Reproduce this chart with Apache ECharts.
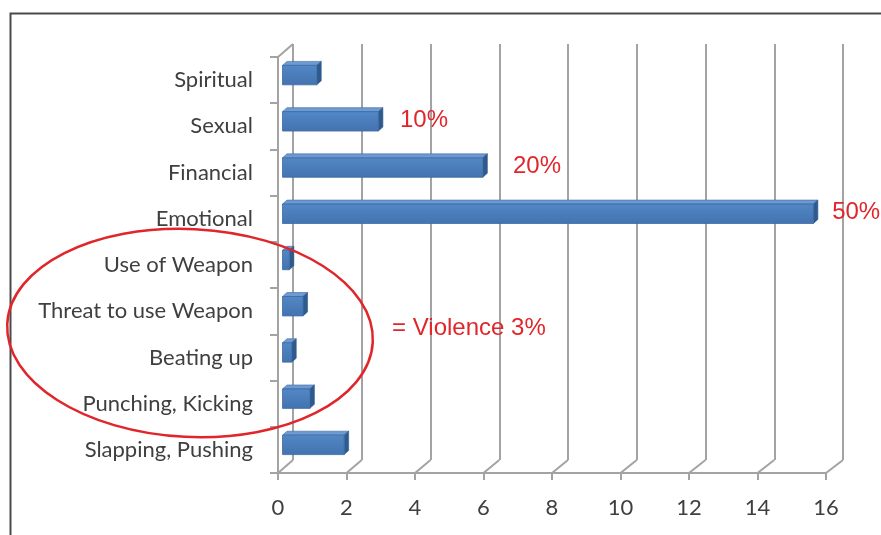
<!DOCTYPE html>
<html>
<head>
<meta charset="utf-8">
<script src="https://cdn.jsdelivr.net/npm/echarts@6/dist/echarts.min.js"></script>
<style>
  html, body { margin: 0; padding: 0; background: #ffffff; }
  #chart { width: 881px; height: 535px; }
</style>
</head>
<body>
<div id="chart"></div>
<script>
// ---- data ----
var categories = ['Spiritual', 'Sexual', 'Financial', 'Emotional', 'Use of Weapon',
                  'Threat to use Weapon', 'Beating up', 'Punching, Kicking', 'Slapping, Pushing'];
var values = [1.0, 2.8, 5.85, 15.5, 0.2, 0.6, 0.27, 0.8, 1.8];
var xTicks = [0, 2, 4, 6, 8, 10, 12, 14, 16];
// annotations: [x value, category position, text]
var noteX = [3.56, 6.86, 16.18, 3.33];
var noteY = [0.88, 1.87, 2.87, 5.37];
var noteText = ['10%', '20%', '50%', '= Violence 3%'];

// ---- styles ----
var LABEL_FONT = 'Lato';
var AXIS_GRAY = '#A3A3A3';
var FRONT = '#4A7DBA', TOP = '#6E9AD2', SIDE = '#2E5A8E', EDGE = '#3C6AA3';
var RED = '#E0262B';

var chart = echarts.init(document.getElementById('chart'), null, { renderer: 'canvas' });

function renderBar(params, api) {
  var v = api.value(0), c = api.value(1);
  var p0 = api.coord([0, c]);
  var p1 = api.coord([v, c]);
  var band = api.size([0, 1])[1];
  var h = band * 0.42;
  var ox = 4.5, oy = -5, dx = 4.5, dy = -4;
  var x0 = p0[0] + ox, x1 = p1[0] + ox;
  var yc = p0[1] + oy, yt = yc - h / 2, yb = yc + h / 2;
  return {
    type: 'group',
    children: [
      { type: 'polygon', shape: { points: [[x0, yt], [x1, yt], [x1 + dx, yt + dy], [x0 + dx, yt + dy]] },
        style: { fill: TOP, stroke: EDGE, lineWidth: 0.6 } },
      { type: 'polygon', shape: { points: [[x1, yt], [x1 + dx, yt + dy], [x1 + dx, yb + dy], [x1, yb]] },
        style: { fill: SIDE, stroke: SIDE, lineWidth: 0.6 } },
      { type: 'rect', shape: { x: x0, y: yt, width: x1 - x0, height: h },
        style: { fill: new echarts.graphic.LinearGradient(0, 0, 0, 1, [
          { offset: 0, color: '#5387C6' }, { offset: 0.5, color: FRONT }, { offset: 1, color: '#4373B0' }]),
          stroke: EDGE, lineWidth: 0.8 } }
    ]
  };
}

function renderDiag(params, api) {
  var v = api.value(0);
  var cs = params.coordSys;
  var p = api.coord([v, 0]);
  var floorY = cs.y + cs.height;
  var dx = 15 + 2 * (v - xTicks[0]) / (xTicks[xTicks.length - 1] - xTicks[0]);
  var children = [
    { type: 'line', shape: { x1: p[0], y1: floorY, x2: p[0] + dx, y2: floorY - 13 },
      style: { stroke: AXIS_GRAY, lineWidth: 2 } }
  ];
  if (params.dataIndex === 0) {
    children.push({ type: 'line', shape: { x1: p[0], y1: cs.y, x2: p[0] + dx, y2: cs.y - 13 },
      style: { stroke: AXIS_GRAY, lineWidth: 2 } });
  }
  return { type: 'group', children: children };
}

function renderNote(params, api) {
  var yv = api.value(1);
  var base = Math.floor(yv);
  var p = api.coord([api.value(0), base]);
  var band = api.size([0, 1])[1];
  var py = p[1] + (yv - base) * band;
  return {
    type: 'text',
    style: {
      x: p[0], y: py, text: noteText[params.dataIndex],
      fill: RED, font: '24px "Liberation Sans", Arial, sans-serif',
      textAlign: 'left', textVerticalAlign: 'middle'
    }
  };
}

var option = {
  backgroundColor: '#ffffff',
  animation: false,
  grid: [
    { left: 278, top: 57, width: 548, height: 416 },
    { left: 293, top: 44, width: 550, height: 416 }
  ],
  xAxis: [
    { type: 'value', gridIndex: 0, min: 0, max: 16, interval: 2,
      axisLine: { show: true, lineStyle: { color: AXIS_GRAY, width: 2 } },
      axisTick: { show: true, length: 7, lineStyle: { color: AXIS_GRAY, width: 2 } },
      axisLabel: { color: '#3F3F3F', fontFamily: LABEL_FONT, fontSize: 22, margin: 24 },
      splitLine: { show: false } },
    { type: 'value', gridIndex: 1, min: 0, max: 16, interval: 2,
      axisLine: { show: false }, axisTick: { show: false }, axisLabel: { show: false },
      splitLine: { show: true, lineStyle: { color: AXIS_GRAY, width: 2 } } }
  ],
  yAxis: [
    { type: 'category', gridIndex: 0, data: categories, inverse: true,
      axisLine: { show: true, lineStyle: { color: AXIS_GRAY, width: 2 } },
      axisTick: { show: true, length: 8, lineStyle: { color: AXIS_GRAY, width: 2 } },
      axisLabel: { color: '#3F3F3F', fontFamily: LABEL_FONT, fontSize: 22, margin: 25 },
      splitLine: { show: false } },
    { type: 'value', gridIndex: 1, min: 0, max: 1, show: false, splitLine: { show: false } }
  ],
  series: [
    { type: 'custom', xAxisIndex: 0, yAxisIndex: 0, renderItem: renderDiag,
      data: xTicks.map(function (t) { return [t]; }), silent: true, z: 1 },
    { type: 'custom', xAxisIndex: 0, yAxisIndex: 0, renderItem: renderBar,
      data: values.map(function (v, i) { return [v, i]; }), z: 3 },
    { type: 'custom', xAxisIndex: 0, yAxisIndex: 0, renderItem: renderNote,
      data: noteX.map(function (x, i) { return [x, noteY[i]]; }), z: 5 }
  ],
  graphic: [
    { type: 'rect', left: 8, top: 11, shape: { x: 0, y: 0, width: 1000, height: 700 },
      style: { fill: 'none', stroke: '#4A4A4A', lineWidth: 2 }, z: 100 },
    { type: 'ellipse', x: 190, y: 333, rotation: -0.05,
      shape: { cx: 0, cy: 0, rx: 183, ry: 104 },
      style: { fill: 'none', stroke: RED, lineWidth: 2.5 }, z: 100 }
  ]
};
chart.setOption(option);
</script>
</body>
</html>
